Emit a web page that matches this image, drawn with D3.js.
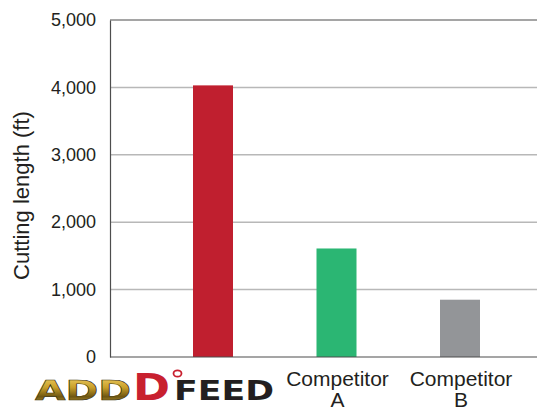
<!DOCTYPE html>
<html>
<head>
<meta charset="utf-8">
<script src="https://cdn.jsdelivr.net/npm/d3@7"></script>
<style>
  html, body { margin: 0; padding: 0; background: #fff; }
  svg { display: block; }
  text { font-family: "Liberation Sans", Arial, Helvetica, sans-serif; fill: #231f20; }
</style>
</head>
<body>
<svg id="chart" width="537" height="412"></svg>
<script>
// Cutting length per product
const categories = ["ADDFEED", "Competitor A", "Competitor B"];
const cuttingLength = [4030, 1610, 850];
const barColors = ["#c01f2f", "#2bb673", "#939598"];
const yTicks = [0, 1000, 2000, 3000, 4000, 5000];
const yTitle = "Cutting length (ft)";

const plot = { left: 110, right: 537, top: 20, bottom: 357 };

const svg = d3.select("#chart");

const y = d3.scaleLinear().domain([0, 5000]).range([plot.bottom, plot.top]);
const x = d3.scalePoint().domain(categories).range([213, 460]);
const barW = 40;

// Gridlines
svg.append("g")
  .selectAll("line")
  .data(yTicks.filter(t => t > 0 && t < 5000))
  .join("line")
  .attr("x1", plot.left).attr("x2", plot.right)
  .attr("y1", d => y(d)).attr("y2", d => y(d))
  .attr("stroke", "#b8b8b8").attr("stroke-width", 1.5);

// Y axis with tick labels
const yAxis = d3.axisLeft(y)
  .tickValues(yTicks)
  .tickSize(0)
  .tickPadding(14)
  .tickFormat(d3.format(","));
const ya = svg.append("g").attr("transform", `translate(${plot.left},0)`).call(yAxis);
ya.select(".domain").attr("stroke", "#4d4d4d").attr("stroke-width", 1.2);
ya.selectAll(".tick text")
  .attr("font-size", 18)
  .attr("fill", "#231f20")
  .style("font-family", "Liberation Sans, Arial, sans-serif");

// Top frame line
svg.append("line")
  .attr("x1", plot.left).attr("x2", plot.right)
  .attr("y1", y(5000)).attr("y2", y(5000))
  .attr("stroke", "#4d4d4d").attr("stroke-width", 1.2);

// Bars
svg.append("g")
  .selectAll("rect")
  .data(categories)
  .join("rect")
  .attr("x", d => x(d) - barW / 2)
  .attr("width", barW)
  .attr("y", (d, i) => y(cuttingLength[i]))
  .attr("height", (d, i) => y(0) - y(cuttingLength[i]))
  .attr("fill", (d, i) => barColors[i]);

// Baseline
svg.append("line")
  .attr("x1", plot.left).attr("x2", plot.right)
  .attr("y1", y(0)).attr("y2", y(0))
  .attr("stroke", "#4d4d4d").attr("stroke-width", 1.2);

// Y axis title
svg.append("text")
  .attr("transform", `translate(29,${(plot.top + plot.bottom) / 2 + 7}) rotate(-90)`)
  .attr("text-anchor", "middle")
  .attr("font-size", 22)
  .text(yTitle);

// Competitor labels (two lines)
const comp = svg.append("g").selectAll("text")
  .data(categories.slice(1))
  .join("text")
  .attr("text-anchor", "middle")
  .attr("font-size", 21);
comp.each(function (d) {
  const parts = d.split(" ");
  const t = d3.select(this);
  t.append("tspan").attr("x", x(d) + 1).attr("y", 386).text(parts[0]);
  t.append("tspan").attr("x", x(d) + 1).attr("y", 407).text(parts.slice(1).join(" "));
});

// Brand wordmark under the first bar
const defs = svg.append("defs");
const gold = defs.append("linearGradient")
  .attr("id", "gold").attr("x1", 0).attr("y1", 0).attr("x2", 0).attr("y2", 1);
gold.append("stop").attr("offset", "0%").attr("stop-color", "#f3d36a");
gold.append("stop").attr("offset", "40%").attr("stop-color", "#c9a02a");
gold.append("stop").attr("offset", "70%").attr("stop-color", "#6e5612");
gold.append("stop").attr("offset", "100%").attr("stop-color", "#d7b040");

const logoX = x(categories[0]) - 178;
const logo = svg.append("g").attr("transform", `translate(${logoX},0)`);
const logoFont = "DejaVu Sans, Verdana, sans-serif";
logo.append("text")
  .attr("x", 0).attr("y", 400)
  .attr("font-size", 27).attr("font-weight", "bold")
  .style("font-family", logoFont)
  .attr("textLength", 96).attr("lengthAdjust", "spacingAndGlyphs")
  .style("fill", "url(#gold)")
  .attr("stroke", "#3a300a").attr("stroke-width", 0.6)
  .text("ADD");
logo.append("text")
  .attr("x", 98).attr("y", 400)
  .attr("font-size", 38).attr("font-weight", "bold")
  .style("font-family", logoFont)
  .attr("textLength", 37).attr("lengthAdjust", "spacingAndGlyphs")
  .style("fill", "#c8202f")
  .text("D");
logo.append("ellipse")
  .attr("cx", 142.5).attr("cy", 373.5).attr("rx", 4).attr("ry", 3.2)
  .attr("fill", "#fff").attr("stroke", "#c8202f").attr("stroke-width", 1.8);
logo.append("text")
  .attr("x", 139).attr("y", 400)
  .attr("font-size", 27).attr("font-weight", "bold")
  .style("font-family", logoFont)
  .attr("textLength", 100).attr("lengthAdjust", "spacingAndGlyphs")
  .style("fill", "#231f20")
  .text("FEED");
</script>
</body>
</html>
